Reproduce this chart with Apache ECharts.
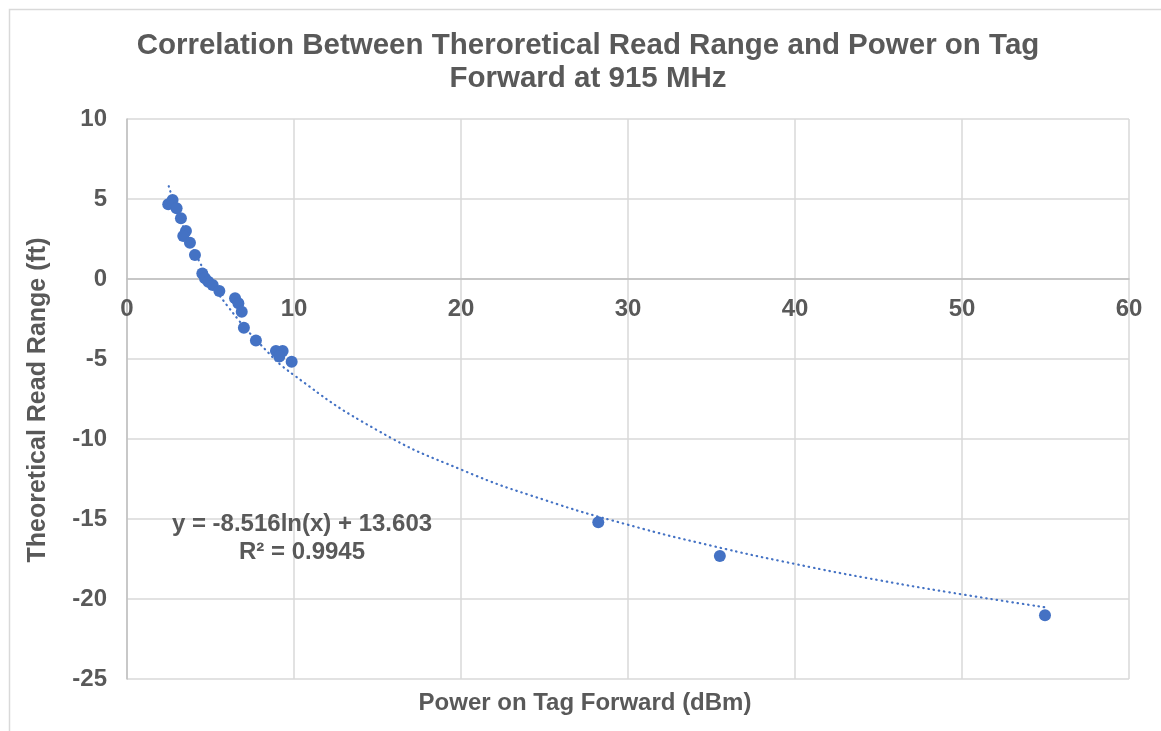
<!DOCTYPE html>
<html>
<head>
<meta charset="utf-8">
<script src="https://cdn.jsdelivr.net/npm/echarts@6/dist/echarts.min.js"></script>
<style>
html,body{margin:0;padding:0;background:#fff;}
#chart{width:1161px;height:731px;}
</style>
</head>
<body>
<div id="chart"></div>
<script>
// Measured points: Power on Tag Forward (dBm) vs Theoretical Read Range (ft)
var powerX = [2.47, 2.73, 2.97, 3.23, 3.53, 3.37, 3.77, 4.07, 4.51, 4.67, 4.87, 5.13, 5.53, 6.47, 6.67, 6.87, 7.0, 7.72, 8.92, 9.32, 9.12, 9.86, 28.22, 35.5, 54.97];
var rangeY = [4.67, 4.94, 4.42, 3.79, 3.0, 2.69, 2.27, 1.5, 0.35, 0.04, -0.17, -0.37, -0.75, -1.21, -1.52, -2.04, -3.04, -3.85, -4.5, -4.5, -4.85, -5.17, -15.21, -17.31, -21.02];

// Logarithmic trendline values
var trendX = [2.5, 3, 4, 5, 6, 8, 10, 15, 20, 25, 30, 35, 40, 45, 50, 55];
var trendY = [5.80, 4.25, 1.80, -0.10, -1.66, -4.10, -6.01, -9.46, -11.91, -13.81, -15.36, -16.67, -17.81, -18.82, -19.71, -20.52];

var xTicks = [0, 10, 20, 30, 40, 50, 60];
var yTicks = [-25, -20, -15, -10, -5, 0, 5, 10];

var titleText = 'Correlation Between Theroretical Read Range and Power on Tag\nForward at 915 MHz';
var xTitle = 'Power on Tag Forward (dBm)';
var yTitle = 'Theoretical Read Range (ft)';
var eqLine1 = 'y = -8.516ln(x) + 13.603';
var eqLine2 = 'R\u00b2 = 0.9945';

var pts = powerX.map(function (x, i) { return [x, rangeY[i]]; });
var trend = trendX.map(function (x, i) { return [x, trendY[i]]; });

var txt = '#595959';
var fontFam = '"Liberation Sans", Arial, sans-serif';

var gridTop = 119, gridBottom = 52, chartH = 731;
// pixel offset that moves the x axis (line + labels) from the grid bottom up to y = 0
var plotH = chartH - gridTop - gridBottom;
var zeroOffset = -plotH * (0 - yTicks[0]) / (yTicks[yTicks.length - 1] - yTicks[0]);

var chart = echarts.init(document.getElementById('chart'));
chart.setOption({
  animation: false,
  backgroundColor: '#ffffff',
  grid: { left: 127, right: 32, top: gridTop, bottom: gridBottom },
  xAxis: {
    type: 'value',
    min: xTicks[0], max: xTicks[xTicks.length - 1], interval: 10,
    offset: zeroOffset,
    axisLine: { onZero: false, lineStyle: { color: '#bfbfbf', width: 1.5 } },
    axisTick: { show: false },
    axisLabel: { color: txt, fontSize: 24, fontWeight: 'bold', fontFamily: fontFam, margin: 18 },
    splitLine: { show: true, lineStyle: { color: '#d9d9d9', width: 1.5 } }
  },
  yAxis: {
    type: 'value',
    min: yTicks[0], max: yTicks[yTicks.length - 1], interval: 5,
    axisLine: { show: true, onZero: false, lineStyle: { color: '#bfbfbf', width: 1.5 } },
    axisTick: { show: false },
    axisLabel: { color: txt, fontSize: 24, fontWeight: 'bold', fontFamily: fontFam, margin: 20 },
    splitLine: { show: true, lineStyle: { color: '#d9d9d9', width: 1.5 } }
  },
  graphic: [
    { type: 'rect', silent: true, z: -10, shape: { x: 9.5, y: 9.5, width: 1300, height: 900 },
      style: { fill: 'none', stroke: '#d9d9d9', lineWidth: 1.5 } },
    { type: 'text', x: 588, y: 62,
      style: { text: titleText, fill: txt, font: 'bold 29.5px ' + fontFam, lineHeight: 33, textAlign: 'center', textVerticalAlign: 'middle' } },
    { type: 'text', x: 585, y: 703,
      style: { text: xTitle, fill: txt, font: 'bold 24px ' + fontFam, textAlign: 'center', textVerticalAlign: 'middle' } },
    { type: 'text', x: 38, y: 400, rotation: Math.PI / 2,
      style: { text: yTitle, fill: txt, font: 'bold 25px ' + fontFam, textAlign: 'center', textVerticalAlign: 'middle' } },
    { type: 'text', x: 302, y: 524, z: 100,
      style: { text: eqLine1, fill: txt, font: 'bold 24px ' + fontFam, textAlign: 'center', textVerticalAlign: 'middle' } },
    { type: 'text', x: 302, y: 552, z: 100,
      style: { text: eqLine2, fill: txt, font: 'bold 24px ' + fontFam, textAlign: 'center', textVerticalAlign: 'middle' } }
  ],
  series: [
    {
      type: 'line',
      data: trend,
      smooth: true,
      showSymbol: false,
      z: 2,
      lineStyle: { color: '#4472C4', width: 2.2, type: [0.5, 4.8], cap: 'round' }
    },
    {
      type: 'scatter',
      data: pts,
      symbolSize: 12,
      z: 3,
      itemStyle: { color: '#4472C4', opacity: 1 }
    }
  ]
});
</script>
</body>
</html>
